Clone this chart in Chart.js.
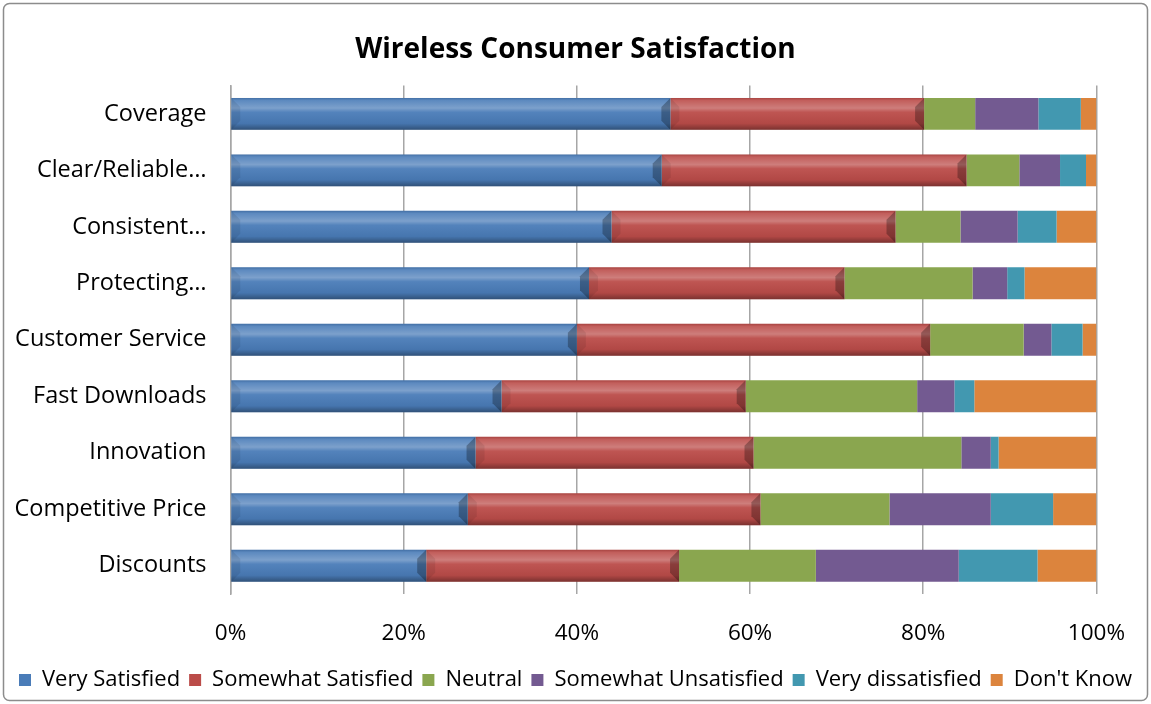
<!DOCTYPE html>
<html>
<head>
<meta charset="utf-8">
<script src="https://cdn.jsdelivr.net/npm/chart.js@4.4.0/dist/chart.umd.min.js"></script>
<style>
  html, body { margin: 0; padding: 0; background: #fff; }
  #wrap { position: relative; width: 1151px; height: 704px; }
</style>
</head>
<body>
<div id="wrap"><canvas id="chart" width="1151" height="704"></canvas></div>
<script>
// categories, top to bottom
const categories = ['Coverage', 'Clear/Reliable…', 'Consistent…', 'Protecting…', 'Customer Service',
  'Fast Downloads', 'Innovation', 'Competitive Price', 'Discounts'];

// percent shares
const verySatisfied     = [50.8, 49.8, 44.0, 41.4, 40.0, 31.3, 28.3, 27.4, 22.6];
const somewhatSatisfied = [29.3, 35.2, 32.8, 29.5, 40.8, 28.2, 32.1, 33.8, 29.2];
const neutral           = [ 5.9,  6.1,  7.5, 14.8, 10.8, 19.8, 24.0, 14.9, 15.8];
const somewhatUnsat     = [ 7.3,  4.7,  6.6,  4.0,  3.2,  4.3,  3.4, 11.7, 16.5];
const veryDissatisfied  = [ 4.9,  3.0,  4.5,  2.0,  3.6,  2.3,  0.9,  7.2,  9.1];
const dontKnow          = [ 1.8,  1.2,  4.6,  8.3,  1.6, 14.1, 11.3,  5.0,  6.8];

const seriesNames = ['Very Satisfied', 'Somewhat Satisfied', 'Neutral', 'Somewhat Unsatisfied', 'Very dissatisfied', "Don't Know"];
const seriesData = [verySatisfied, somewhatSatisfied, neutral, somewhatUnsat, veryDissatisfied, dontKnow];
const seriesColors = ['#4A7CB8', '#BB4C49', '#8AA64F', '#735A91', '#4298B0', '#DC843D'];

const FONT = '"Open Sans", Lato, sans-serif';

// white background + thin outer frame
const frame = {
  id: 'frame',
  beforeDraw(chart) {
    const c = chart.ctx;
    c.save();
    c.fillStyle = '#fff';
    c.fillRect(0, 0, chart.width, chart.height);
    c.strokeStyle = '#8c8c8c';
    c.lineWidth = 1.5;
    c.beginPath();
    c.roundRect(3.5, 3.5, chart.width - 7, chart.height - 7, 6);
    c.stroke();
    c.restore();
  }
};

// bevel look on the first two series, like the Excel original
const bevel = {
  id: 'bevel',
  afterDatasetsDraw(chart) {
    const c = chart.ctx;
    [0, 1].forEach(di => {
      chart.getDatasetMeta(di).data.forEach(bar => {
        const x0 = Math.min(bar.x, bar.base), x1 = Math.max(bar.x, bar.base);
        const y0 = bar.y - bar.height / 2, y1 = bar.y + bar.height / 2;
        const h = y1 - y0, b = Math.min(9, h / 3);
        c.save();
        const g = c.createLinearGradient(0, y0, 0, y1);
        g.addColorStop(0, 'rgba(0,0,0,0.10)');
        g.addColorStop(0.08, 'rgba(255,255,255,0.10)');
        g.addColorStop(0.32, 'rgba(255,255,255,0.28)');
        g.addColorStop(0.45, 'rgba(255,255,255,0.05)');
        g.addColorStop(0.8, 'rgba(0,0,0,0.05)');
        g.addColorStop(1, 'rgba(0,0,0,0.35)');
        c.fillStyle = g;
        c.fillRect(x0, y0, x1 - x0, h);
        // left end bevel
        c.fillStyle = 'rgba(0,0,0,0.08)';
        c.beginPath();
        c.moveTo(x0, y0); c.lineTo(x0 + b, y0 + b); c.lineTo(x0 + b, y1 - b); c.lineTo(x0, y1);
        c.closePath(); c.fill();
        // right end bevel
        c.fillStyle = 'rgba(0,0,0,0.28)';
        c.beginPath();
        c.moveTo(x1, y0); c.lineTo(x1 - b, y0 + b); c.lineTo(x1 - b, y1 - b); c.lineTo(x1, y1);
        c.closePath(); c.fill();
        c.restore();
      });
    });
  }
};

new Chart(document.getElementById('chart'), {
  type: 'bar',
  data: {
    labels: categories,
    datasets: seriesNames.map((name, i) => ({
      label: name,
      data: seriesData[i],
      backgroundColor: seriesColors[i],
      borderWidth: 0,
      categoryPercentage: 1,
      barPercentage: 0.565
    }))
  },
  options: {
    indexAxis: 'y',
    responsive: false,
    animation: false,
    layout: { padding: { left: 0, right: 0, top: 14, bottom: 3 } },
    plugins: {
      title: {
        display: true,
        text: 'Wireless Consumer Satisfaction',
        color: '#000',
        font: { family: FONT, size: 28, weight: 'bold' },
        padding: { top: 19, bottom: 19 }
      },
      legend: {
        position: 'bottom',
        labels: {
          color: '#000',
          font: { family: FONT, size: 22 },
          boxWidth: 12,
          boxHeight: 12,
          padding: 9
        }
      },
      tooltip: { enabled: false }
    },
    scales: {
      x: {
        stacked: true,
        min: 0,
        max: 100,
        ticks: {
          stepSize: 20,
          color: '#000',
          font: { family: FONT, size: 22.5 },
          padding: 26,
          callback: v => v + '%'
        },
        grid: { color: '#a6a6a6', lineWidth: 1.5, drawTicks: false },
        border: { display: false },
        afterFit: s => { s.height = 66; }
      },
      y: {
        stacked: true,
        ticks: {
          color: '#000',
          font: { family: FONT, size: 23.5 },
          padding: 24
        },
        grid: { display: false, drawTicks: false },
        border: { color: '#a6a6a6', width: 1.5 },
        afterFit: s => { s.width = 230.5; }
      },
      // empty spacer on the right so the title stays centred on the canvas
      spacer: {
        axis: 'y',
        position: 'right',
        display: true,
        ticks: { display: false },
        grid: { display: false, drawTicks: false },
        border: { display: false },
        afterFit: s => { s.width = 53; }
      }
    }
  },
  plugins: [frame, bevel]
});
</script>
</body>
</html>
